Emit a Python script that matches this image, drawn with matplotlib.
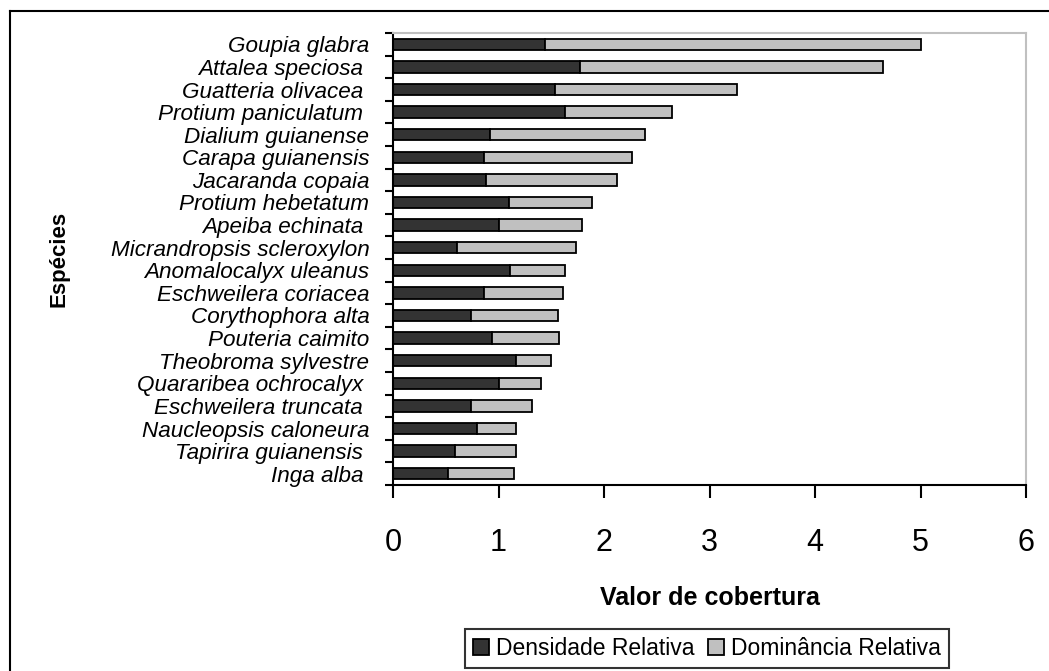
import numpy as np
import matplotlib
matplotlib.use("Agg")
import matplotlib.pyplot as plt
from matplotlib.lines import Line2D

plt.rcParams['font.family'] = ['Liberation Sans', 'DejaVu Sans']

especies = ["Goupia glabra", "Attalea speciosa ", "Guatteria olivacea ", "Protium paniculatum ",
            "Dialium guianense", "Carapa guianensis", "Jacaranda copaia", "Protium hebetatum",
            "Apeiba echinata ", "Micrandropsis scleroxylon", "Anomalocalyx uleanus",
            "Eschweilera coriacea", "Corythophora alta", "Pouteria caimito",
            "Theobroma sylvestre", "Quararibea ochrocalyx ", "Eschweilera truncata ",
            "Naucleopsis caloneura", "Tapirira guianensis ", "Inga alba "]
densidade = [1.44, 1.77, 1.54, 1.63, 0.92, 0.86, 0.88, 1.10, 1.00, 0.61,
             1.11, 0.86, 0.74, 0.94, 1.17, 1.00, 0.74, 0.80, 0.59, 0.52]
dominancia = [3.56, 2.87, 1.72, 1.01, 1.47, 1.41, 1.24, 0.79, 0.79, 1.12,
              0.52, 0.75, 0.82, 0.63, 0.33, 0.40, 0.58, 0.37, 0.58, 0.63]
xticks = [0, 1, 2, 3, 4, 5, 6]

fig = plt.figure(figsize=(10.49, 6.71), dpi=100)
ax = fig.add_axes([393/1049, 1-485/671, 633/1049, 452/671])

y = np.arange(len(especies))
ax.barh(y, densidade, height=0.5, color="#333333", edgecolor="black", linewidth=1.3,
        label="Densidade Relativa")
ax.barh(y, dominancia, left=densidade, height=0.5, color="#c0c0c0", edgecolor="black",
        linewidth=1.3, label="Dominância Relativa")

ax.set_xlim(0, 6)
ax.set_ylim(len(especies) - 0.5, -0.5)
ax.set_xticks(xticks)
ax.set_xticklabels([str(v) for v in xticks], fontsize=22)
ax.tick_params(axis='x', direction='out', length=9, width=1.5, pad=22)

ax.set_yticks(y)
ax.set_yticklabels(especies, fontsize=16.2, style='italic')
ax.tick_params(axis='y', which='major', length=0, pad=17)
ax.set_yticks(np.arange(len(especies) + 1) - 0.5, minor=True)
ax.tick_params(axis='y', which='minor', direction='out', length=6, width=1.5)

for s in ["left", "bottom"]:
    ax.spines[s].set_color("black")
    ax.spines[s].set_linewidth(1.5)
for s in ["top", "right"]:
    ax.spines[s].set_color("#c0c0c0")
    ax.spines[s].set_linewidth(1.5)

ax.set_xlabel("Valor de cobertura", fontsize=18, fontweight='bold', va='center')
ax.xaxis.set_label_coords(0.5, -0.25)
ax.set_ylabel("Espécies", fontsize=16, fontweight='bold', va='center', ha='center')
ax.yaxis.set_label_coords(-0.527, 0.5)

leg = fig.legend(loc="lower center", bbox_to_anchor=(707/1049, 1-668/671), ncol=2,
                 fontsize=16.5, frameon=True, fancybox=False, handlelength=0.7,
                 handleheight=0.7, handletextpad=0.3, columnspacing=0.6, borderpad=0.35,
                 borderaxespad=0)
leg.get_frame().set_edgecolor("black")
leg.get_frame().set_linewidth(1.5)

# moldura externa (só topo e esquerda aparecem)
fig.add_artist(Line2D([10/1049, 10/1049], [0, 1-11/671], color="black", lw=1.5,
                      transform=fig.transFigure))
fig.add_artist(Line2D([10/1049, 1], [1-11/671, 1-11/671], color="black", lw=1.5,
                      transform=fig.transFigure))

fig.savefig("out.png", dpi=100)
